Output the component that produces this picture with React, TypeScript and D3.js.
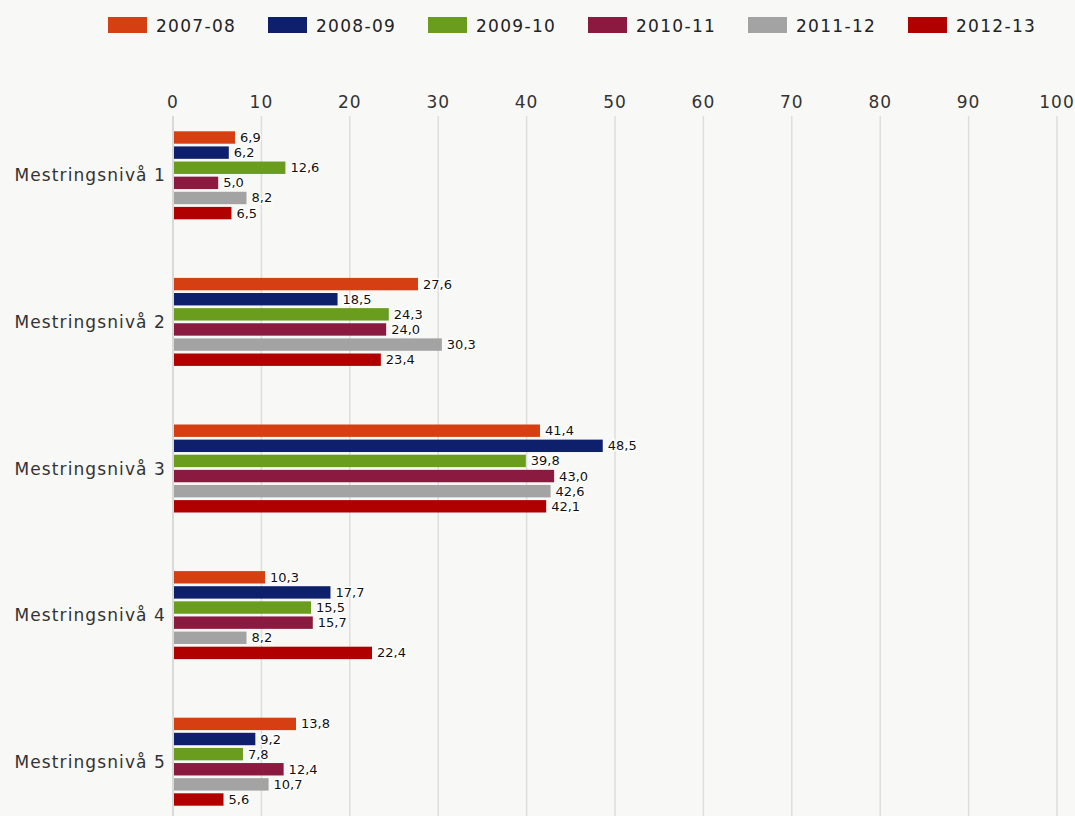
import * as d3 from "d3";

const categories = [
  "Mestringsnivå 1",
  "Mestringsnivå 2",
  "Mestringsnivå 3",
  "Mestringsnivå 4",
  "Mestringsnivå 5",
];

const seriesNames = ["2007-08", "2008-09", "2009-10", "2010-11", "2011-12", "2012-13"];
const seriesColors = ["#d63f12", "#0e1f6c", "#6a9c1e", "#8a1a40", "#a3a3a3", "#b00000"];

const values0708 = [6.9, 27.6, 41.4, 10.3, 13.8];
const values0809 = [6.2, 18.5, 48.5, 17.7, 9.2];
const values0910 = [12.6, 24.3, 39.8, 15.5, 7.8];
const values1011 = [5.0, 24.0, 43.0, 15.7, 12.4];
const values1112 = [8.2, 30.3, 42.6, 8.2, 10.7];
const values1213 = [6.5, 23.4, 42.1, 22.4, 5.6];

const seriesValues = [values0708, values0809, values0910, values1011, values1112, values1213];

const xTicks = [0, 10, 20, 30, 40, 50, 60, 70, 80, 90, 100];

const W = 1075;
const H = 816;
const FONT = "'DejaVu Sans', Verdana, sans-serif";

export default function App() {
  const x = d3.scaleLinear().domain([0, 100]).range([173, 1057]);
  const y0 = d3.scaleBand<string>().domain(categories).range([102, 835]).padding(0);
  const y1 = d3
    .scaleBand<string>()
    .domain(seriesNames)
    .range([-44, 44])
    .paddingInner(0.18)
    .paddingOuter(0);
  const fmt = (v: number) => v.toFixed(1).replace(".", ",");

  return (
    <svg
      width={W}
      height={H}
      style={{ position: "absolute", left: 0, top: 0, background: "#f8f8f6" }}
      fontFamily={FONT}
    >
      {/* legend */}
      {seriesNames.map((s, i) => (
        <g key={s} transform={`translate(${108 + i * 160},17)`}>
          <rect width={39} height={16} fill={seriesColors[i]} />
          <text x={48} y={15} fontSize={17} letterSpacing={1.3} fill="#222">
            {s}
          </text>
        </g>
      ))}

      {/* grid + ticks */}
      {xTicks.map((t) => (
        <g key={t}>
          <line
            x1={x(t)}
            x2={x(t)}
            y1={116}
            y2={H}
            stroke={t === 0 ? "#cfcfcf" : "#dedede"}
            strokeWidth={1.5}
          />
          <text
            x={x(t)}
            y={108}
            textAnchor="middle"
            fontSize={17}
            letterSpacing={1}
            fill="#333"
          >
            {t}
          </text>
        </g>
      ))}

      {/* category labels */}
      {categories.map((c) => (
        <text
          key={c}
          x={166}
          y={y0(c)! + y0.bandwidth() / 2 + 6}
          textAnchor="end"
          fontSize={17}
          letterSpacing={1.1}
          fill="#333"
        >
          {c}
        </text>
      ))}

      {/* bars */}
      {categories.map((c, ci) => {
        const cy = y0(c)! + y0.bandwidth() / 2;
        return (
          <g key={c} transform={`translate(0,${cy})`}>
            {seriesNames.map((s, si) => {
              const v = seriesValues[si][ci];
              const by = y1(s)!;
              return (
                <rect
                  key={s}
                  x={x(0) + 1}
                  y={by}
                  width={x(v) - x(0)}
                  height={y1.bandwidth()}
                  fill={seriesColors[si]}
                />
              );
            })}
            {seriesNames.map((s, si) => {
              const v = seriesValues[si][ci];
              const by = y1(s)!;
              return (
                <text
                  key={s}
                  x={x(v) + 6}
                  y={by + y1.bandwidth() / 2 + 4.5}
                  fontSize={13}
                  fill="#111"
                  stroke="#ffffff"
                  strokeWidth={3}
                  paintOrder="stroke"
                >
                  {fmt(v)}
                </text>
              );
            })}
          </g>
        );
      })}
    </svg>
  );
}
